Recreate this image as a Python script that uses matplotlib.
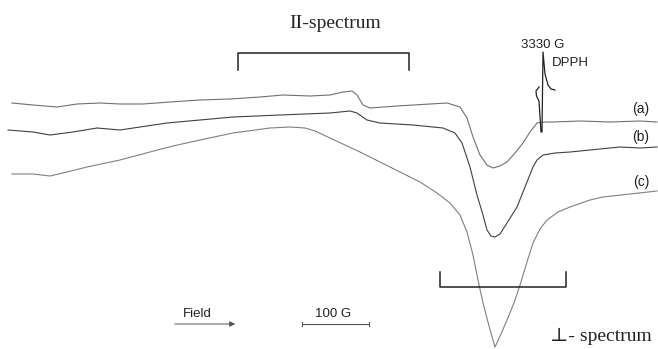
import matplotlib
matplotlib.use("Agg")
import matplotlib.pyplot as plt

# traces (x = field position, y = signal, picture units, down is positive)
xa = [12, 33, 57, 77, 100, 120, 143, 170, 200, 230, 260, 283, 310, 330, 343, 352, 357,
      363, 370, 397, 430, 447, 460, 467, 473, 480, 487, 493, 500, 507, 515, 523, 530,
      537, 545, 553, 580, 610, 640, 657]
ya = [103, 105, 107, 104, 103, 104, 104, 102, 100, 99, 97, 95, 96, 95, 92, 91, 95,
      105, 108, 106, 104, 103, 107, 118, 137, 155, 165, 168, 166, 162, 153, 143, 132,
      123, 122, 122, 121, 122, 121, 122]

xb = [8, 33, 50, 73, 97, 120, 167, 200, 233, 280, 330, 350, 357, 367, 380, 413, 443,
      455, 462, 470, 477, 483, 487, 491, 495, 500, 507, 517, 527, 533, 537, 543, 555, 570,
      600, 620, 640, 657]
yb = [130, 132, 135, 132, 128, 130, 123, 120, 117, 115, 113, 111, 113, 120, 123, 125, 128,
      133, 143, 167, 195, 215, 230, 236, 237, 234, 223, 207, 182, 167, 160, 155, 153, 152,
      149, 147, 148, 147]

xc = [12, 33, 50, 67, 87, 120, 150, 173, 200, 233, 270, 290, 305, 315, 330, 360, 390, 420,
      437, 450, 460, 467, 473, 478, 483, 489, 495, 501, 507, 514, 520, 527, 533, 540,
      547, 558, 570, 590, 603, 630, 657]
yc = [174, 174, 176, 172, 167, 160, 152, 146, 140, 133, 128, 127, 128, 131, 138, 152, 167, 182,
      193, 203, 215, 232, 255, 280, 303, 326, 347, 334, 320, 303, 285, 262, 243, 229,
      220, 212, 207, 200, 197, 194, 191]

# DPPH reference line
xd = [539, 536, 536.5, 539, 541, 542, 543, 545, 548, 551, 555]
yd = [87, 91, 96, 101, 132, 132, 52, 74, 85, 89, 90]

labels = ["(a)", "(b)", "(c)"]
label_y = [109, 137, 182]

fig = plt.figure(figsize=(6.58, 3.49), dpi=100)
ax = fig.add_axes([0, 0, 1, 1])
ax.set_xlim(0, 658)
ax.set_ylim(349, 0)
ax.axis("off")

ax.plot(xa, ya, color="#707070", lw=0.8)
ax.plot(xb, yb, color="#404040", lw=0.8)
ax.plot(xc, yc, color="#808080", lw=0.8)
ax.plot(xd, yd, color="#222222", lw=0.9)

sans = "Liberation Sans"
serif = ["Liberation Serif", "DejaVu Serif"]

for lab, y in zip(labels, label_y):
    ax.text(641, y, lab, fontsize=10, family=sans, ha="center", va="center", color="#222")

ax.text(543, 45, "3330 G", fontsize=9.5, family=sans, ha="center", va="center", color="#222")
ax.text(570, 63, "DPPH", fontsize=9.5, family=sans, ha="center", va="center", color="#222")

# parallel bracket
ax.plot([238, 238, 409, 409], [70, 53, 53, 70], color="#222", lw=1.1)
ax.text(335, 23, "II-spectrum", fontsize=14, family=serif, ha="center", va="center", color="#222")

# perpendicular bracket
ax.plot([440, 440, 566, 566], [272, 287, 287, 272], color="#222", lw=1.1)
ax.text(601, 336, "⊥- spectrum", fontsize=14, family=serif, ha="center", va="center", color="#222")

# field arrow and scale bar
ax.text(197, 314, "Field", fontsize=9.5, family=sans, ha="center", va="center", color="#222")
ax.annotate("", xy=(238, 324), xytext=(172, 324),
            arrowprops=dict(arrowstyle="-|>", color="#555", lw=0.7, mutation_scale=8))
ax.text(333, 314, "100 G", fontsize=9.5, family=sans, ha="center", va="center", color="#222")
ax.plot([302, 369], [324, 324], color="#555", lw=0.8)
ax.plot([302, 302], [322, 326], color="#555", lw=0.8)
ax.plot([369, 369], [322, 326], color="#555", lw=0.8)

fig.savefig("out.png", dpi=100, facecolor="white")
